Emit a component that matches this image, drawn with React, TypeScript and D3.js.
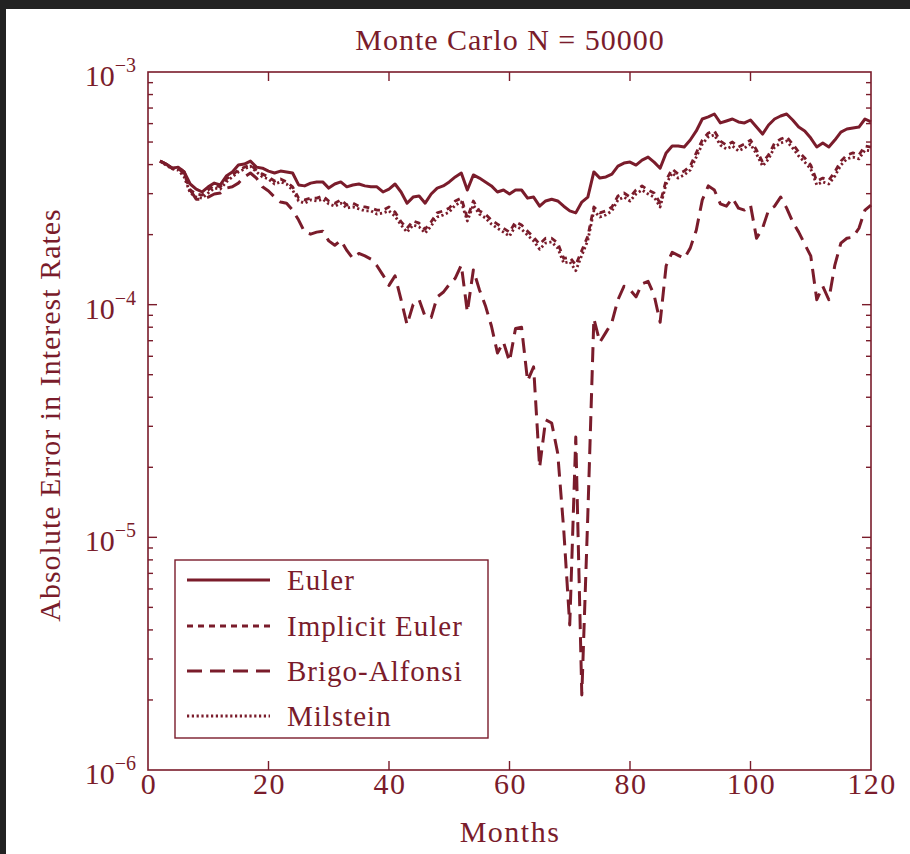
import React from 'react';
import * as d3 from 'd3';

const W = 910;
const H = 854;
const INK = '#7a1c2b';
const FONT = '"Liberation Serif", "DejaVu Serif", serif';

// Monthly absolute errors, months 2..120, in units of 1e-4
const FIRST_MONTH = 2;
const UNIT = 1e-4;

const eulerErr = [
  4.14, 4.02, 3.86, 3.90, 3.72, 3.30, 3.14, 3.05, 3.21, 3.33,
  3.27, 3.57, 3.72, 3.98, 4.02, 4.14, 3.90, 3.86, 3.75, 3.68,
  3.75, 3.72, 3.68, 3.27, 3.24, 3.33, 3.37, 3.37, 3.17, 3.30,
  3.37, 3.21, 3.27, 3.30, 3.24, 3.21, 3.21, 3.05, 3.14, 3.30,
  3.05, 2.73, 2.90, 2.93, 2.73, 2.99, 3.17, 3.24, 3.37, 3.54,
  3.68, 3.11, 3.61, 3.50, 3.37, 3.24, 3.05, 3.11, 2.99, 3.11,
  3.11, 2.87, 2.90, 2.65, 2.79, 2.84, 2.79, 2.65, 2.53, 2.48,
  2.76, 2.90, 3.72, 3.50, 3.54, 3.64, 3.94, 4.06, 4.10, 3.98,
  4.18, 4.31, 4.10, 3.86, 4.49, 4.81, 4.81, 4.76, 5.10, 5.58,
  6.28, 6.41, 6.60, 6.04, 6.16, 6.28, 6.10, 6.04, 6.22, 5.80,
  5.41, 5.92, 6.28, 6.47, 6.60, 6.22, 5.80, 5.58, 5.20, 4.76,
  4.95, 4.76, 5.10, 5.52, 5.69, 5.75, 5.80, 6.28, 6.10,
];

const implicitErr = [
  4.14, 4.02, 3.86, 3.86, 3.64, 3.11, 2.99, 2.96, 3.11, 3.27,
  3.21, 3.47, 3.61, 3.79, 3.90, 3.98, 3.79, 3.64, 3.54, 3.40,
  3.47, 3.37, 3.21, 2.87, 2.82, 2.87, 2.87, 2.93, 2.79, 2.73,
  2.82, 2.68, 2.73, 2.65, 2.63, 2.60, 2.55, 2.55, 2.63, 2.50,
  2.27, 2.13, 2.29, 2.24, 2.11, 2.27, 2.48, 2.53, 2.60, 2.79,
  2.87, 2.36, 2.79, 2.53, 2.45, 2.31, 2.22, 2.13, 2.05, 2.27,
  2.20, 2.07, 1.95, 1.82, 1.93, 1.93, 1.84, 1.58, 1.60, 1.48,
  1.71, 1.97, 2.63, 2.48, 2.53, 2.63, 2.93, 3.02, 2.90, 3.11,
  3.24, 3.11, 3.02, 2.73, 3.43, 3.83, 3.64, 3.75, 3.94, 4.49,
  5.10, 5.47, 5.58, 5.05, 4.85, 5.00, 4.76, 4.90, 5.10, 4.62,
  4.10, 4.40, 4.95, 5.15, 5.26, 4.90, 4.53, 4.27, 3.98, 3.40,
  3.50, 3.43, 3.72, 4.14, 4.40, 4.49, 4.40, 4.81, 4.76,
];

const brigoErr = [
  4.14, 4.02, 3.86, 3.90, 3.72, 3.11, 2.84, 2.84, 2.90, 2.99,
  3.02, 3.17, 3.21, 3.33, 3.54, 3.68, 3.50, 3.21, 3.08, 2.90,
  2.76, 2.73, 2.55, 2.31, 2.05, 2.01, 2.05, 2.07, 1.88, 1.80,
  1.89, 1.71, 1.58, 1.66, 1.62, 1.57, 1.47, 1.34, 1.21, 1.33,
  1.05, 0.82, 1.00, 1.05, 0.89, 0.88, 1.08, 1.13, 1.22, 1.30,
  1.48, 0.93, 1.41, 1.16, 0.99, 0.81, 0.62, 0.69, 0.57, 0.79,
  0.80, 0.47, 0.54, 0.20, 0.32, 0.31, 0.23, 0.108, 0.042, 0.27,
  0.021, 0.125, 0.87, 0.69, 0.76, 0.84, 1.05, 1.20, 1.16, 1.08,
  1.23, 1.26, 1.10, 0.84, 1.47, 1.68, 1.63, 1.58, 1.75, 2.09,
  2.82, 3.24, 3.11, 2.71, 2.65, 2.87, 2.60, 2.55, 2.68, 1.93,
  2.13, 2.55, 2.65, 2.90, 2.60, 2.27, 2.05, 1.82, 1.62, 1.05,
  1.20, 1.05, 1.48, 1.84, 1.93, 1.95, 2.13, 2.55, 2.68,
];

const milsteinErr = [
  4.14, 3.98, 3.83, 3.79, 3.54, 3.02, 2.90, 2.87, 3.02, 3.17,
  3.14, 3.37, 3.54, 3.72, 3.83, 3.94, 3.72, 3.54, 3.47, 3.30,
  3.37, 3.30, 3.11, 2.79, 2.73, 2.82, 2.79, 2.84, 2.71, 2.65,
  2.73, 2.60, 2.63, 2.58, 2.53, 2.53, 2.45, 2.48, 2.53, 2.40,
  2.20, 2.05, 2.20, 2.16, 2.03, 2.18, 2.38, 2.43, 2.50, 2.68,
  2.76, 2.29, 2.68, 2.45, 2.36, 2.22, 2.13, 2.05, 1.97, 2.18,
  2.11, 1.99, 1.88, 1.73, 1.84, 1.86, 1.75, 1.51, 1.53, 1.40,
  1.63, 1.89, 2.53, 2.38, 2.43, 2.53, 2.82, 2.90, 2.79, 2.99,
  3.11, 2.99, 2.90, 2.63, 3.30, 3.68, 3.50, 3.61, 3.79, 4.31,
  4.90, 5.26, 5.36, 4.85, 4.67, 4.81, 4.58, 4.71, 4.90, 4.44,
  3.94, 4.23, 4.76, 4.95, 5.05, 4.71, 4.35, 4.10, 3.83, 3.27,
  3.37, 3.30, 3.57, 3.98, 4.23, 4.31, 4.23, 4.62, 4.58,
];

const xTicks = [0, 20, 40, 60, 80, 100, 120];
const yDecades = [-6, -5, -4, -3];

const TITLE = 'Monte Carlo N = 50000';
const X_LABEL = 'Months';
const Y_LABEL = 'Absolute Error in Interest Rates';

type Series = { name: string; values: number[]; dash: string | null; width: number };

const series: Series[] = [
  { name: 'Euler', values: eulerErr, dash: null, width: 3 },
  { name: 'Implicit Euler', values: implicitErr, dash: '6,5', width: 2.8 },
  { name: 'Brigo-Alfonsi', values: brigoErr, dash: '15,8', width: 3 },
  { name: 'Milstein', values: milsteinErr, dash: '2.2,2.6', width: 2.8 },
];

const plot = { left: 148, right: 871, top: 72, bottom: 770 };

export default function App() {
  const x = d3.scaleLinear().domain([0, 120]).range([plot.left, plot.right]);
  const y = d3.scaleLog().domain([1e-6, 1e-3]).range([plot.bottom, plot.top]);

  const line = d3
    .line<number>()
    .x((_, i) => x(FIRST_MONTH + i))
    .y((v) => y(v * UNIT));

  const minorTicks: number[] = [];
  for (let k = -6; k < -3; k++) {
    for (let m = 2; m <= 9; m++) minorTicks.push(m * Math.pow(10, k));
  }

  const drawOrder = [2, 3, 1, 0];

  const legend = { x: 175, y: 560, w: 313, h: 178 };
  const legendRows = [580, 626, 671, 716];

  return (
    <svg
      width={W}
      height={H}
      viewBox={`0 0 ${W} ${H}`}
      style={{ position: 'absolute', left: 0, top: 0, background: '#fff' }}
      fontFamily={FONT}
    >
      <rect x={0} y={0} width={W} height={H} fill="#fff" />
      {/* dark frame edges */}
      <rect x={0} y={0} width={W} height={9} fill="#222" />
      <rect x={0} y={0} width={6} height={H} fill="#222" />

      <text x={510} y={50} textAnchor="middle" fontSize={30} letterSpacing={1} fill={INK}>
        {TITLE}
      </text>

      {/* series */}
      <g fill="none" strokeLinejoin="round">
        {drawOrder.map((i) => {
          const s = series[i];
          return (
            <path
              key={s.name}
              d={line(s.values) || ''}
              stroke={INK}
              strokeWidth={s.width}
              strokeDasharray={s.dash || undefined}
            />
          );
        })}
      </g>

      {/* frame */}
      <rect
        x={plot.left}
        y={plot.top}
        width={plot.right - plot.left}
        height={plot.bottom - plot.top}
        fill="none"
        stroke={INK}
        strokeWidth={1.6}
      />

      {/* ticks */}
      <g stroke={INK} strokeWidth={1.4}>
        {xTicks.slice(1, -1).map((t) => (
          <g key={t}>
            <line x1={x(t)} x2={x(t)} y1={plot.bottom} y2={plot.bottom - 9} />
            <line x1={x(t)} x2={x(t)} y1={plot.top} y2={plot.top + 9} />
          </g>
        ))}
        {yDecades.slice(1, -1).map((d) => (
          <g key={d}>
            <line x1={plot.left} x2={plot.left + 9} y1={y(Math.pow(10, d))} y2={y(Math.pow(10, d))} />
            <line x1={plot.right} x2={plot.right - 9} y1={y(Math.pow(10, d))} y2={y(Math.pow(10, d))} />
          </g>
        ))}
        {minorTicks.map((v) => (
          <g key={v}>
            <line x1={plot.left} x2={plot.left + 5} y1={y(v)} y2={y(v)} />
            <line x1={plot.right} x2={plot.right - 5} y1={y(v)} y2={y(v)} />
          </g>
        ))}
      </g>

      {/* x tick labels */}
      <g fontSize={30} fill={INK} textAnchor="middle" letterSpacing={1.5}>
        {xTicks.map((t) => (
          <text key={t} x={x(t) + 1} y={plot.bottom + 24}>
            {t}
          </text>
        ))}
      </g>

      {/* y tick labels */}
      <g fill={INK}>
        {yDecades.map((d) => (
          <text key={d} x={plot.left - 12} y={y(Math.pow(10, d)) + 14} textAnchor="end" fontSize={30}>
            10
            <tspan dy={-14} fontSize={20}>
              {'\u2212' + Math.abs(d)}
            </tspan>
          </text>
        ))}
      </g>

      <text x={510} y={842} textAnchor="middle" fontSize={30} letterSpacing={1.5} fill={INK}>
        {X_LABEL}
      </text>
      <text
        transform={`translate(60, ${(plot.top + plot.bottom) / 2 - 6}) rotate(-90)`}
        textAnchor="middle"
        fontSize={30}
        letterSpacing={1}
        fill={INK}
      >
        {Y_LABEL}
      </text>

      {/* legend */}
      <rect
        x={legend.x}
        y={legend.y}
        width={legend.w}
        height={legend.h}
        fill="#fff"
        stroke={INK}
        strokeWidth={1.4}
      />
      {series.map((s, i) => (
        <g key={s.name}>
          <line
            x1={187}
            x2={270}
            y1={legendRows[i]}
            y2={legendRows[i]}
            stroke={INK}
            strokeWidth={s.width}
            strokeDasharray={s.dash || undefined}
          />
          <text x={287} y={legendRows[i] + 10} fontSize={29} letterSpacing={1} fill={INK}>
            {s.name}
          </text>
        </g>
      ))}
    </svg>
  );
}
